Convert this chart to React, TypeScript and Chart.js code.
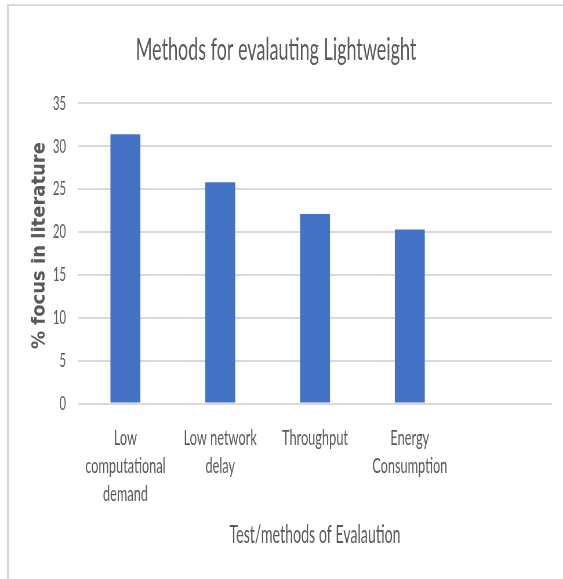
import React, { useEffect, useRef } from "react";
import { Chart, registerables } from "chart.js";

Chart.register(...registerables);

// Chart data
const TITLE = "Methods for evalauting Lightweight";
const X_TITLE = "Test/methods of Evalaution";
const Y_TITLE = "% focus in literature";
const CATEGORIES: (string | string[])[] = [
  ["Low", "computational", "demand"],
  ["Low network", "delay"],
  "Throughput",
  ["Energy", "Consumption"],
  "",
];
const FOCUS_VALUES = [31.4, 25.8, 22.1, 20.3, null];
const Y_MIN = 0;
const Y_MAX = 35;
const Y_STEP = 5;

// The chart is drawn on a wider canvas and condensed horizontally,
// which gives the tall, narrow lettering of the figure.
const VIEW_W = 563;
const VIEW_H = 579;
const CANVAS_W = 971;
const SQ = VIEW_W / CANVAS_W;

const TEXT_GRAY = "#595959";
const GRID_GRAY = "#d9d9d9";
const BAR_BLUE = "#4472C4";
const FONT = "Lato, 'Open Sans', sans-serif";

// Plot frame in page pixels
const PLOT_LEFT = 78;
const PLOT_RIGHT = 552;
const PLOT_BOTTOM = 403.5;

const yTitlePlugin = {
  id: "yTitleUpright",
  afterDraw(chart: Chart) {
    const { ctx } = chart;
    ctx.save();
    ctx.translate(40 / SQ, 245.5);
    ctx.scale(1 / SQ, 1);
    ctx.rotate(-Math.PI / 2);
    ctx.font = "600 18px 'DejaVu Sans', Verdana, sans-serif";
    ctx.fillStyle = TEXT_GRAY;
    ctx.textAlign = "center";
    ctx.textBaseline = "middle";
    ctx.fillText(Y_TITLE, 0, 0);
    ctx.restore();
  },
};

export default function App() {
  const canvasRef = useRef<HTMLCanvasElement | null>(null);

  useEffect(() => {
    if (!canvasRef.current) return;
    const chart = new Chart(canvasRef.current, {
      type: "bar",
      data: {
        labels: CATEGORIES,
        datasets: [
          {
            data: FOCUS_VALUES,
            backgroundColor: BAR_BLUE,
            borderWidth: 0,
            categoryPercentage: 1,
            barPercentage: 0.316,
          },
        ],
      },
      options: {
        responsive: true,
        maintainAspectRatio: false,
        animation: false,
        layout: {
          padding: { left: 0, right: CANVAS_W - PLOT_RIGHT / SQ, top: 0, bottom: 0 },
        },
        plugins: {
          legend: { display: false },
          tooltip: { enabled: false },
          title: {
            display: true,
            text: TITLE,
            color: TEXT_GRAY,
            font: { family: FONT, size: 31, weight: "normal", lineHeight: 1.2 },
            padding: { top: 31, bottom: 35.2 },
          },
        },
        scales: {
          x: {
            grid: { display: false },
            border: { display: false },
            ticks: {
              color: TEXT_GRAY,
              font: { family: FONT, size: 22, lineHeight: 1.27 },
              padding: 12.5,
              maxRotation: 0,
              autoSkip: false,
            },
            title: {
              display: true,
              text: X_TITLE,
              color: TEXT_GRAY,
              font: { family: FONT, size: 24.5, lineHeight: 1.2 },
              padding: { top: 0, bottom: 29.3 },
            },
            afterFit(scale: any) {
              scale.height = VIEW_H - PLOT_BOTTOM;
            },
          },
          y: {
            min: Y_MIN,
            max: Y_MAX,
            grid: { color: GRID_GRAY, lineWidth: 2, drawTicks: false },
            border: { display: false },
            ticks: {
              stepSize: Y_STEP,
              color: TEXT_GRAY,
              font: { family: FONT, size: 19.5 },
              padding: 20.7,
            },
            afterFit(scale: any) {
              scale.width = PLOT_LEFT / SQ;
            },
          },
        },
      },
      plugins: [yTitlePlugin],
    });
    return () => chart.destroy();
  }, []);

  return (
    <div
      style={{
        position: "fixed",
        left: 0,
        top: 0,
        width: VIEW_W,
        height: VIEW_H,
        overflow: "hidden",
        background: "#ffffff",
      }}
    >
      <div
        style={{
          position: "absolute",
          left: 7,
          top: 4,
          width: VIEW_W + 20,
          height: VIEW_H + 20,
          borderLeft: `2px solid ${GRID_GRAY}`,
          borderTop: `2px solid ${GRID_GRAY}`,
        }}
      />
      <div
        style={{
          position: "absolute",
          left: 0,
          top: 0,
          width: CANVAS_W,
          height: VIEW_H,
          transform: `scaleX(${SQ})`,
          transformOrigin: "0 0",
        }}
      >
        <canvas ref={canvasRef} />
      </div>
    </div>
  );
}
